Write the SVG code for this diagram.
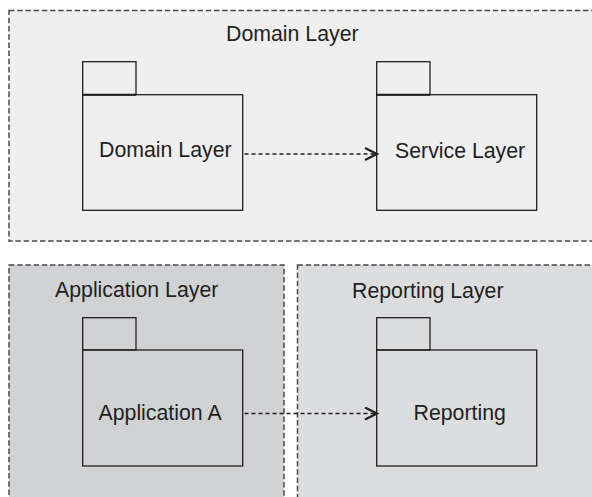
<svg xmlns="http://www.w3.org/2000/svg" width="592" height="497" viewBox="0 0 592 497">
<style>
.cont{stroke:#48484a;stroke-width:1.5;stroke-dasharray:5.5 2.7}
.pkg{fill:none;stroke:#231f20;stroke-width:1.3}
.tabline{stroke:#231f20;stroke-width:2}
.t{font-family:"Liberation Sans",Arial,sans-serif;font-size:21.3px;fill:#231f20}
.dep{fill:none;stroke:#231f20;stroke-width:1.4;stroke-dasharray:4 3}
</style>
<defs>
<marker id="open" markerWidth="16" markerHeight="16" refX="13" refY="7" orient="auto" markerUnits="userSpaceOnUse">
<path d="M1,1 L13,7 L1,13" fill="none" stroke="#231f20" stroke-width="2.2"/>
</marker>
</defs>
<rect width="592" height="497" fill="#ffffff"/>
<g id="domain-layer-container">
<rect class="cont" x="9" y="10.5" width="600" height="230.5" fill="#efefef"/>
<text class="t" x="226" y="41">Domain Layer</text>
</g>
<g id="application-layer-container">
<rect class="cont" x="9" y="265" width="275" height="250" fill="#d1d2d4"/>
<text class="t" x="55" y="297">Application Layer</text>
</g>
<g id="reporting-layer-container">
<rect class="cont" x="297.5" y="265" width="310" height="250" fill="#dcdddf"/>
<text class="t" x="352" y="298">Reporting Layer</text>
</g>
<g id="domain-layer">
<rect class="pkg" x="82.7" y="61.7" width="53.3" height="33"/>
<rect class="pkg" x="82.7" y="94.7" width="160" height="115.6"/>
<line class="tabline" x1="82.7" y1="94.7" x2="136" y2="94.7"/>
<text class="t" x="99" y="157">Domain Layer</text>
</g>
<g id="service-layer">
<rect class="pkg" x="376.7" y="61.7" width="53.3" height="33"/>
<rect class="pkg" x="376.7" y="94.7" width="160" height="115.6"/>
<line class="tabline" x1="376.7" y1="94.7" x2="430" y2="94.7"/>
<text class="t" x="395" y="158">Service Layer</text>
</g>
<g id="application-a">
<rect class="pkg" x="82.7" y="317.7" width="53.3" height="32.3"/>
<rect class="pkg" x="82.7" y="350" width="160" height="116"/>
<text class="t" x="98.5" y="419.5">Application A</text>
</g>
<g id="reporting">
<rect class="pkg" x="376.7" y="317.7" width="53.3" height="32.3"/>
<rect class="pkg" x="376.7" y="350" width="160" height="116"/>
<text class="t" x="413.5" y="420">Reporting</text>
</g>
<g id="connectors">
<line class="dep" x1="244.5" y1="154" x2="377" y2="154" marker-end="url(#open)"/>
<line class="dep" x1="244.5" y1="413.5" x2="377" y2="413.5" marker-end="url(#open)"/>
</g>
</svg>
